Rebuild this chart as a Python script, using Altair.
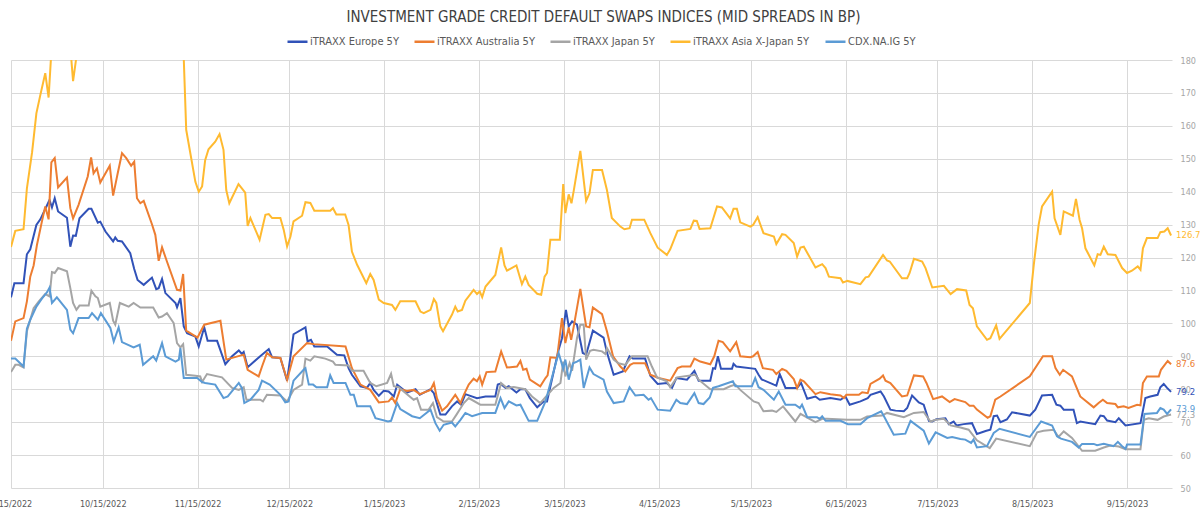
import altair as alt
import pandas as pd

# ---------------- data (day offsets from 2022-09-15, spreads in bp) ----------------
series_names = ["iTRAXX Europe 5Y", "iTRAXX Australia 5Y", "iTRAXX Japan 5Y",
                "iTRAXX Asia X-Japan 5Y", "CDX.NA.IG 5Y"]
series_colors = ["#3152B8", "#ED7D31", "#A5A5A5", "#FFBA30", "#5B9BD5"]
last_labels = [79.2, 87.6, 72.3, 126.7, 73.9]

eu_days = [0, 1.1, 4.1, 5.2, 6.3, 8.3, 9.6, 11.6, 12.6, 13.4, 14.3, 15.4, 18.3, 19.4, 20.3, 21.2, 22.4, 25.4, 26.3, 28.4,
           29.2, 30.9, 33.4, 34.1, 34.9, 36.3, 39, 40.3, 41.4, 43.4, 46.1, 47.5, 48.3, 49.4, 50.5, 53.8, 54.3, 55.4, 56.5,
           57.6, 60.3, 61.4, 63.2, 64.3, 67.4, 70.1, 72.3, 74.5, 75.5, 76.1, 77.4, 81.5, 84.3, 85.4, 88.1, 90.3, 92.4,
           96.3, 97, 98.1, 99.2, 103.4, 106.6, 109, 110.4, 111.5, 114.3, 116.4, 117.5, 118.6, 120.3, 121.9, 123.5, 125.2,
           126.3, 129.5, 132.3, 133.7, 137.2, 138.3, 140.4, 142.1, 144.2, 145.9, 147.2, 148.6, 152.4, 155.2, 158.4, 159.2,
           160.1, 161.7, 162.8, 165.3, 166.6, 168.2, 169.7, 172.1, 174.2, 175.3, 177.5, 179.1, 180.2, 181.5, 182.4, 183.5,
           185.1, 187, 188.1, 190.3, 193.8, 194.9, 197.1, 200.1, 202.3, 203.4, 207.4, 209.1, 211.5, 214.5, 216.2, 217.6,
           221.1, 223.5, 224.9, 228.7, 229.6, 230.3, 231.2, 232.2, 235.8, 236.3, 237.2, 243.4, 244.5, 245.5, 249.5, 250.3,
           251.4, 253.3, 257.1, 258.4, 260.4, 263.1, 264.5, 268, 271.3, 272.9, 274.3, 277.8, 280.2, 281.1, 284.4, 285.5,
           287.6, 289.3, 292, 293.1, 294.7, 296.9, 298.5, 300.2, 301.3, 302.7, 305.6, 306.7, 308.3, 309.2, 311.6, 314.3,
           315.9, 319, 320.3, 321.4, 322.5, 323.6, 325.7, 327.4, 333.2, 335, 337.2, 340.5, 341.9, 343.2, 344.3, 347.5,
           348.6, 349.7, 354.6, 356.3, 357.4, 358.5, 361.2, 362.3, 364.5, 369.4, 371, 372.6, 375, 375.9, 377, 378.1, 379.4]
eu_vals = [107.9, 112.2, 112.2, 121, 122.5, 129.9, 131.6, 135.5, 137.5, 135.2, 138, 134, 132.1, 123.3, 126.7, 126.6, 131.9,
           134.8, 134.8, 130.6, 130.9, 127.9, 124.9, 126.1, 125.1, 124.9, 121.3, 116.5, 113.2, 111.7, 113.9, 110.4, 110.7,
           113.5, 109.2, 106.2, 104.9, 107.7, 99.1, 97, 96, 93, 98.8, 94.7, 94.7, 87.6, 90, 91.8, 90.7, 91.3, 86.7, 90,
           92.2, 89.7, 89.5, 82.6, 96.7, 98.8, 94.5, 95, 93, 93, 90.5, 90.3, 86.4, 84.4, 80.9, 80.4, 81.9, 79.8, 78, 79.5,
           79.3, 77.8, 81.4, 79, 80, 78.3, 80, 78.8, 72.3, 72.3, 74.8, 76.3, 75.3, 78.5, 77.3, 77.8, 77.8, 81.4, 81.7,
           80.4, 80.9, 79, 80, 80, 77.3, 74.5, 76.3, 76.3, 85.4, 92, 95.5, 104.1, 99.1, 100.6, 99.6, 91, 90.5, 97.8, 95.7,
           91.2, 84.4, 85.4, 90, 89.3, 89.3, 84.1, 81.6, 81.9, 80.4, 83.4, 82.9, 85.6, 82.6, 82.6, 86.4, 86.2, 90, 86.2,
           86.2, 87.7, 86.9, 86.2, 84.4, 83, 81.4, 81.1, 84.6, 80.4, 80.4, 81.9, 77.1, 77.8, 76.8, 77.3, 76.8, 77.8,
           75.3, 76.3, 77.3, 78.3, 79.3, 77.8, 73.8, 73.5, 73.3, 74.3, 78.1, 76, 75.3, 70.4, 70.2, 70.9, 71.2, 69.4,
           70.2, 69, 69.4, 69.7, 66.4, 67.4, 67.7, 71.8, 72, 70, 70.8, 73, 72, 73.8, 78.1, 78.3, 75.3, 75, 73.8, 73.8,
           69.7, 70.2, 69.4, 72, 71.8, 70.5, 70, 71.2, 69, 69.7, 77.3, 77.8, 78.3, 80.6, 81.6, 80.4, 79.2]

au_days = [0, 1.4, 4.1, 5.2, 6.3, 7.4, 8.5, 10.1, 11.2, 12.3, 13.2, 14.3, 15.4, 18.3, 19.4, 20.3, 22.1, 25.1, 26.2, 27,
           28.1, 29.2, 32.3, 33.4, 34.9, 36.3, 37.7, 39.3, 40.3, 41.2, 42.3, 43.4, 46.1, 47.2, 48.3, 49.4, 51, 54.3, 55.4,
           56.3, 57.3, 61, 63.2, 68.5, 70.4, 76.1, 77.4, 81, 82.1, 83.7, 85.4, 88.1, 90.3, 92.4, 96.8, 99, 109.4, 111.5,
           114.3, 117.5, 120.3, 123.5, 124.6, 125.7, 127.3, 129.5, 131.7, 133.7, 137.2, 138.3, 139.3, 141, 142.6, 145.3,
           147, 148.1, 149.7, 151.3, 152.4, 153.3, 154.1, 155.5, 158.4, 160.3, 162.2, 165.5, 166.6, 167.5, 168.6, 169.7,
           173.1, 174.8, 175.5, 176.4, 178.6, 180.2, 181.3, 182.4, 183.2, 184, 186.2, 188.1, 189.2, 190.3, 193.3, 194.9,
           196.9, 199.3, 200.9, 202.5, 203.6, 207.4, 209.1, 211.8, 215.6, 218, 219.4, 222.2, 223.5, 225.4, 228.7, 230,
           231.4, 232.8, 235.2, 237.2, 238.5, 241.8, 242.7, 244.2, 245.9, 249.2, 250.3, 252.2, 253.6, 256, 257.1, 258.2,
           259.3, 263.1, 264.7, 268, 271.3, 272.4, 273.2, 277.3, 278.4, 280.2, 281.1, 284.1, 285.2, 286, 287.6, 291.4,
           293.1, 295.3, 298.3, 299.4, 301.6, 304.5, 307, 308.6, 312.1, 313.5, 314.8, 315.9, 319.4, 320.3, 321.9, 323.6,
           333.2, 337.5, 340.5, 341.6, 343, 344.1, 347, 348.1, 349.7, 354.1, 355.7, 357.1, 358.5, 361.2, 362, 363.9,
           365.5, 368.3, 369.4, 370.2, 371.5, 375.4, 376.1, 378.3, 379.4]
au_vals = [94.7, 100.6, 101.6, 106.7, 114.2, 117.6, 123.9, 130.9, 135.5, 131.6, 148.9, 150.2, 141.3, 144.3, 135, 131.9,
           136, 144.6, 150.4, 145.6, 147.1, 142.8, 147.9, 138.8, 145.6, 151.7, 150.2, 147.9, 149.1, 138, 136.5, 137.2,
           130.1, 126.9, 119, 123.1, 118.8, 110.2, 110, 115, 97.8, 95.7, 99.6, 100.8, 89, 90.5, 85.9, 83.9, 86.9, 91,
           89.7, 89.5, 82.9, 90, 94, 93.7, 93, 86.4, 81.4, 79.8, 76, 76.3, 77.5, 75.8, 80, 79.5, 79.8, 78.5, 79.8, 81.9,
           77.3, 73.5, 74.8, 78.3, 75.8, 78.3, 81.4, 83.2, 82.4, 83.9, 81.4, 85.2, 85.4, 91.5, 86.6, 86.9, 88.6, 85.9,
           86.2, 82.9, 80.9, 83.4, 84.2, 89.7, 89.5, 101.6, 94, 98.8, 95, 98.8, 110.5, 99.1, 98.8, 104.8, 102.8, 97.6,
           90, 86.9, 85.4, 87.4, 87.9, 87.9, 84.4, 83.4, 82.6, 86.4, 86.9, 86.9, 89.3, 88.4, 87.6, 90, 94.7, 94.3, 91.5,
           94.3, 90, 89.7, 90, 91.3, 86.4, 85.9, 84.6, 86.2, 85.6, 83.1, 80.4, 82.9, 82.4, 78.5, 79.1, 78.5, 78.1, 77.3,
           78.3, 78.3, 79.1, 78.8, 81.6, 83.2, 84.2, 82.6, 81.9, 77.8, 78.1, 84.2, 83.9, 81.9, 77, 77.8, 76.1, 77, 76.1,
           75, 75, 73.8, 71.3, 71.8, 76.8, 77.8, 83.9, 90, 90, 86.4, 84.4, 85.9, 83.9, 81.4, 77.8, 74.5, 75.8, 76.8,
           75.8, 75.5, 74.5, 74.8, 74.3, 75.3, 75.1, 81.9, 83.9, 83.9, 85.9, 88.6, 87.6]

jp_days = [0, 1.4, 2.5, 4.1, 5.2, 7.4, 9.1, 11.2, 12.6, 13.4, 14.3, 15.4, 18.3, 19.4, 20.3, 21.4, 22.4, 25.4, 26.3, 27.6,
           28.4, 29.2, 32.3, 33.4, 34.1, 35.6, 38.5, 40.1, 42.3, 46.5, 48.3, 49.4, 51, 53.2, 54.3, 55.4, 56.3, 57.3, 60.3,
           61.9, 62.5, 64.1, 69, 72.3, 74.5, 76.1, 77, 81.5, 82.4, 83.7, 88.1, 90.3, 92.4, 95.2, 96.3, 97.9, 99.2, 102.8,
           105.3, 106.1, 110.4, 111.5, 115.3, 117.5, 119.5, 123, 124.3, 125.2, 126.8, 129.5, 131.7, 132.8, 134.1, 136.6,
           138, 139.3, 141.5, 144.2, 145.7, 148.1, 149.7, 153.5, 158.4, 160.3, 162.2, 164.4, 168.2, 170.4, 173.1, 175.3,
           177.5, 179.7, 180.6, 181.3, 182.7, 183.5, 185.1, 186.2, 187.3, 188.1, 189.4, 190.5, 193.3, 194.4, 194.9, 197.1,
           198.7, 200.9, 203.1, 208.2, 209.6, 211.3, 214.5, 215.6, 217.8, 223.8, 224.9, 228.7, 233.1, 235.2, 236.9,
           238.5, 242.9, 244.5, 246.1, 248.9, 250.3, 252.5, 256.5, 258.2, 263.1, 265.3, 266.9, 273.5, 277.8, 280, 284.9,
           286.5, 292, 295.3, 298.5, 300.7, 302.4, 305.1, 307.3, 310.5, 313.2, 315.9, 320.1, 322.2, 333.2, 335.6, 337.7,
           341, 342.6, 344.3, 347, 350.3, 354.6, 357.4, 359.5, 362.3, 364.5, 369.4, 370.5, 372.1, 375, 377, 379.4]
jp_vals = [85.2, 87.4, 87.4, 86.6, 97.6, 104.6, 106.7, 108.9, 108.2, 115.6, 115.3, 116.8, 115.8, 110.7, 106.2, 104.1,
           105.4, 105.4, 109.9, 108.2, 107.7, 105.1, 106.2, 100.8, 99.6, 106.2, 105.1, 106.2, 104.8, 104.8, 101.8, 102.1,
           103.1, 100.1, 94, 92.7, 93.7, 84.4, 84.1, 83.9, 82.2, 84.6, 83.6, 80.4, 79.8, 80.6, 76.8, 76.8, 76.3, 78.3,
           78.1, 76.3, 79.8, 81.4, 89.3, 88.7, 90, 89.3, 88.4, 87.4, 87.2, 85.6, 85.6, 81.9, 80.9, 81.9, 84.7, 80.9,
           80.6, 78.5, 76.8, 77.3, 73.8, 73.8, 75.8, 71.5, 70.2, 70.2, 72.3, 75.8, 77.3, 75.3, 75.3, 81.9, 80.4, 80.7,
           80, 77.8, 75.8, 78.1, 80.4, 81.9, 88.4, 83.9, 87.9, 85.6, 95.5, 99.6, 99.6, 89, 91.7, 92, 91.5, 90.7, 92.5,
           89, 87.9, 87.4, 90, 90, 86.9, 83.6, 82.4, 80.6, 83.6, 84.4, 82.9, 80, 80, 80.9, 81.4, 79.8, 76.3, 75.8, 73.3,
           73.5, 73.1, 74.8, 70.2, 72.5, 70, 71, 71, 70.7, 70.7, 71.7, 72, 72.8, 71.5, 72.8, 73.1, 70.2, 70.7, 71, 69,
           68.4, 67.7, 64.5, 62.1, 65, 62.7, 66.9, 67.4, 67.7, 65.5, 67.2, 65.2, 61.3, 61.3, 62.3, 62.9, 62.6, 61.8,
           61.8, 70.7, 71.2, 70.7, 71.7, 72.3]

as_days = [0, 1.4, 4.1, 5.2, 6.9, 8.3, 9.6, 11.2, 12.3, 13.1, 14.5, 16.5, 18.5, 19.7, 20.3, 21.4, 24, 30, 38, 46, 52,
           56.5, 57.3, 60.3, 61.4, 62.5, 63.5, 64.6, 66.8, 68.2, 69.5, 70.4, 71.4, 74.4, 76.6, 77.4, 78.3, 81.3, 83.2,
           84.3, 85.4, 88.1, 89.2, 90.3, 91.4, 92.4, 95.2, 96.3, 97.9, 99.2, 104.4, 105.3, 106.4, 109.3, 110.4, 111.5,
           113.2, 116.2, 117.5, 118.6, 120.3, 121.9, 124.6, 125.7, 127.3, 132.3, 133.9, 135, 137.2, 138.3, 139.1, 140.4,
           141.3, 144.2, 145.3, 146.1, 147.5, 148.6, 151.3, 152.4, 153.3, 154.1, 155.2, 158.4, 160.3, 161.4, 162.2,
           165.3, 167.1, 168.2, 169.3, 172.1, 173.4, 174.5, 175.3, 176.4, 179.5, 180.6, 181.3, 182.4, 183.3, 184, 186.2,
           188.1, 189.2, 190.3, 193.3, 194.9, 196.5, 199.3, 200.6, 202.3, 203.1, 207.1, 209.1, 211.5, 214.5, 215.6, 218,
           222.2, 223.3, 224.3, 225.2, 228.7, 230.9, 232.5, 235.2, 236.3, 237.4, 238.5, 241.8, 242.7, 244.2, 246.1,
           249.5, 250.3, 252.2, 253.3, 256, 257.1, 258.2, 259.3, 263.1, 265.3, 266.4, 267.5, 271.3, 272.1, 273.5, 277.8,
           279.5, 280.5, 285.2, 286.5, 287.4, 291.4, 293.1, 293.9, 295.3, 298, 299.1, 301.3, 305.1, 307.3, 309.4, 312.4,
           313.5, 314.6, 315.9, 319.2, 320.3, 322.2, 323.3, 333.2, 334.5, 336.1, 337.2, 340.5, 341.3, 343.2, 344.3,
           347.3, 348.3, 349.5, 350.3, 351.4, 354.3, 355.4, 356.3, 357.4, 358.7, 361.2, 363.4, 365, 366.6, 368.5, 369.4,
           370.2, 371.5, 375, 375.9, 377.2, 378.3, 379.4]
as_vals = [123.2, 128.1, 128.6, 141, 152, 163.8, 169.4, 176, 168.6, 181, 186, 190, 186, 180.5, 173.6, 181, 190, 196, 198,
           195, 190, 180.5, 158.8, 143, 140, 141.6, 149.6, 152.9, 155.2, 157.5, 152.7, 140.5, 136.5, 142.3, 139.7, 129.6,
           132, 125.4, 133, 133.2, 132, 132, 128.4, 123.4, 126.4, 131, 132.7, 136.8, 136.6, 134.2, 134.2, 135, 133.1,
           133.1, 129.9, 121.8, 117.8, 112.2, 115, 113.2, 107.2, 106.2, 105.6, 104.1, 106.7, 106.7, 103.6, 103.1, 104.1,
           107.4, 106.2, 99.1, 97.6, 102.6, 105.1, 103.6, 104.1, 106.9, 110.2, 108.9, 109.7, 108, 111.2, 114.7, 123.1,
           117.6, 116, 117.6, 111.9, 114.2, 111.7, 109, 108.7, 114.2, 115.3, 125.4, 125.4, 142.3, 133.5, 139.2, 136.5,
           140, 152.4, 137.2, 139.5, 146.6, 146.6, 140.5, 132, 129.4, 128.6, 128.9, 131.5, 131.5, 127.4, 123, 120.8,
           122.5, 128.1, 128.7, 131.2, 131.1, 128.7, 128.9, 135.5, 135.2, 131.9, 134.8, 134.8, 130.7, 129.4, 129.9,
           132.3, 127.4, 126.4, 124.1, 127.1, 126.9, 124.4, 120.3, 123, 123.3, 117, 118, 116.8, 114.2, 113.7, 112.4,
           112.9, 111.9, 114, 114.2, 120.8, 119.1, 118.8, 113.7, 113.7, 115.3, 119.6, 118.8, 116.8, 110.9, 111.4, 108.9,
           110.4, 110, 105.6, 104.6, 99.1, 95, 95.5, 99.4, 95.3, 106.2, 117.8, 130, 135.5, 140, 131.9, 126.9, 134,
           132.7, 137.8, 131.4, 128.9, 122.8, 117.6, 121, 120.8, 123.3, 121, 120.8, 116.8, 115.3, 116, 117.3, 116.3,
           122.8, 125.9, 125.9, 127.7, 127.9, 128.9, 126.7]

cdx_days = [0, 1.4, 4.1, 5.2, 6.3, 8.3, 10.1, 11.8, 12.6, 13.4, 15, 18.3, 19.4, 20.3, 22.1, 25.4, 26.5, 28.4, 29.4,
            32.5, 33.6, 35.2, 36.3, 40.1, 42.1, 43.2, 46.5, 47.5, 49.4, 50.5, 53.8, 54.9, 55.4, 56.5, 60.9, 62.5, 63.5,
            66.8, 69.5, 70.9, 74.5, 75.5, 76.3, 78.3, 81, 82.1, 84.6, 88.1, 89.7, 90.8, 92.4, 95.7, 96.3, 97.4, 98.8,
            99.9, 103.4, 104.4, 105.5, 109.4, 111, 112.1, 113.2, 117.5, 119.2, 123.3, 124.3, 126.3, 127.3, 131.2, 133.7,
            137.2, 138.8, 140.2, 141.5, 144.2, 145.3, 147, 148.6, 150.8, 154.1, 158.4, 160.1, 161.4, 162.8, 165.3, 166.6,
            169.3, 172.1, 174.8, 177, 179.1, 180.6, 181.3, 182.4, 183.8, 185.1, 186.2, 187.3, 189.2, 190.5, 193.8, 194.9,
            197.1, 200.4, 202.3, 204.2, 206.9, 208.5, 209.3, 211.5, 215.6, 217.6, 218.9, 221.1, 223.5, 224.9, 226.5,
            228.5, 229.6, 231.4, 236.1, 236.9, 242.3, 243.4, 244.5, 246.1, 249.5, 251.1, 253.3, 256.5, 258, 258.7, 260.4,
            263.6, 264.5, 265.3, 266.4, 271.3, 273.7, 277.8, 280, 284.6, 285.5, 288.7, 292.5, 294.2, 298.5, 300.2, 302.4,
            306.2, 307.8, 310.5, 312.1, 314, 314.8, 315.9, 319.2, 321.4, 323.3, 333.2, 336.9, 340.5, 342.1, 343.4, 347,
            349.2, 350.3, 354.1, 355.2, 357.4, 360.6, 362, 363.4, 364.5, 365, 369.4, 370.7, 374.8, 375.9, 377, 378.1,
            379.4]
cdx_vals = [89.3, 89.3, 86.9, 98.4, 101.1, 105.1, 107.5, 109.5, 110.9, 106.2, 107.9, 104.1, 98.1, 97, 101.6, 101.6, 103.1,
            101.1, 103.1, 98.6, 94.5, 98.8, 94.3, 92.7, 93.5, 87.4, 90, 88.7, 94, 90, 88.4, 89, 92.5, 83.4, 83.4, 82.2,
            81.9, 81.4, 77.3, 77.8, 81.9, 80.4, 75.8, 76.8, 79.8, 82.6, 81.4, 78.3, 76, 76.3, 82.6, 85.9, 86.4, 81.4,
            81.4, 80.6, 80.6, 84.2, 81.9, 81.9, 78.3, 78.3, 74.8, 74.8, 71.2, 70.2, 70.4, 75.8, 74, 71.8, 71.2, 73.8,
            69.7, 67.4, 69.2, 69.9, 68.7, 70.7, 72.8, 71.8, 72.8, 72.8, 77.3, 74.3, 76.3, 75.1, 75.3, 70.4, 70.4, 76.3,
            83.9, 91, 86.2, 89, 82.9, 87.9, 88.4, 89, 80.4, 86.6, 84.6, 82.9, 79.3, 75.8, 76.3, 80.6, 78.1, 78.3, 76.8,
            77.3, 73.8, 73.5, 76.8, 75.8, 75.5, 78.8, 75.8, 75.5, 77.5, 80.4, 80.9, 82.4, 80.9, 80.9, 83.4, 80.6, 79.8,
            76.8, 79.3, 75.3, 75.3, 74.3, 75.3, 71.5, 71.5, 71, 71.8, 70.4, 70.4, 69.4, 69.4, 71.2, 73.3, 71.8, 66.2,
            66.5, 70.4, 67.4, 63.5, 66.9, 65.2, 65.5, 64.9, 64.7, 63.7, 64.7, 62.3, 62.7, 66.7, 68, 65.5, 70.2, 69, 65.7,
            65, 64, 62.3, 63.4, 63.4, 63, 63.4, 62.7, 64, 62.7, 61.9, 63.2, 63.2, 72.5, 72.8, 74.3, 73.8, 72.5, 73.9]

x_tick_dates = ["2022-09-15", "2022-10-15", "2022-11-15", "2022-12-15", "2023-01-15", "2023-02-15", "2023-03-15",
                "2023-04-15", "2023-05-15", "2023-06-15", "2023-07-15", "2023-08-15", "2023-09-15"]
y_ticks = list(range(50, 181, 10))

# ---------------- build tables ----------------
start = pd.Timestamp("2022-09-15")
all_days = [eu_days, au_days, jp_days, as_days, cdx_days]
all_vals = [eu_vals, au_vals, jp_vals, as_vals, cdx_vals]
frames = []
for name, d, v in zip(series_names, all_days, all_vals):
    frames.append(pd.DataFrame({"series": name,
                                "date": start + pd.to_timedelta(d, unit="D"),
                                "value": v}))
df = pd.concat(frames, ignore_index=True)

last_rows = []
for name, d, lab in zip(series_names, all_days, last_labels):
    last_rows.append({"series": name, "date": start + pd.to_timedelta(d[-1], unit="D"),
                      "value": lab, "label": f"{lab:.1f}"})
df_last = pd.DataFrame(last_rows)

FONT = "Liberation Sans Narrow, DejaVu Sans Condensed, Arial Narrow, sans-serif"


def dt(s):
    t = pd.Timestamp(s)
    return alt.DateTime(year=t.year, month=t.month, date=t.day, hours=t.hour)


x_scale = alt.Scale(domain=[dt("2022-09-15"), dt("2023-09-29 17:00")])
y_scale = alt.Scale(domain=[50, 180], nice=False, zero=False)
color_scale = alt.Scale(domain=series_names, range=series_colors)

x_axis = alt.Axis(values=[dt(s) for s in x_tick_dates], format="%-m/%-d/%Y", title=None,
                  grid=True, gridColor="#D9D9D9", gridWidth=1, ticks=False, tickSize=0,
                  domain=False, labelFlush=False, labelPadding=11, labelFontSize=9,
                  labelFont=FONT, labelColor="#595959", labelOverlap=False)
y_axis = alt.Axis(orient="right", values=y_ticks, title=None, grid=True, gridColor="#D9D9D9",
                  gridWidth=1, ticks=False, tickSize=0, domain=False, labelPadding=8,
                  labelFontSize=9, labelFont=FONT, labelColor="#A6A6A6", labelOverlap=False,
                  labelBound=False, labelFlush=False)

lines = alt.Chart(df).mark_line(strokeWidth=2, clip=True).encode(
    x=alt.X("date:T", scale=x_scale, axis=x_axis),
    y=alt.Y("value:Q", scale=y_scale, axis=y_axis),
    color=alt.Color("series:N", scale=color_scale,
                    legend=alt.Legend(orient="none", legendX=275, legendY=-30, direction="horizontal",
                                      columns=5, title=None, symbolType="stroke", symbolSize=400,
                                      symbolStrokeWidth=2.5, labelFont=FONT, labelFontSize=11,
                                      labelColor="#595959", labelOffset=1, columnPadding=10, padding=0)),
    detail="series:N",
)

labels = alt.Chart(df_last).mark_text(align="left", baseline="middle", dx=5, fontSize=9.5, font=FONT).encode(
    x=alt.X("date:T", scale=x_scale, axis=x_axis),
    y=alt.Y("value:Q", scale=y_scale, axis=y_axis),
    text="label:N",
    color=alt.Color("series:N", scale=color_scale, legend=None),
)

chart = alt.layer(lines, labels).properties(
    width=1161,
    height=428,
    autosize="none",
    padding={"left": 11, "top": 60, "right": 28, "bottom": 24},
    background="white",
    title=alt.Title("INVESTMENT GRADE CREDIT DEFAULT SWAPS INDICES (MID SPREADS IN BP)",
                    font=FONT, fontSize=15, fontWeight="normal", color="#404040",
                    anchor="middle", dx=12, offset=5),
).configure_view(stroke=None)

chart.save("out.html", embed_options={"renderer": "svg", "actions": False})
